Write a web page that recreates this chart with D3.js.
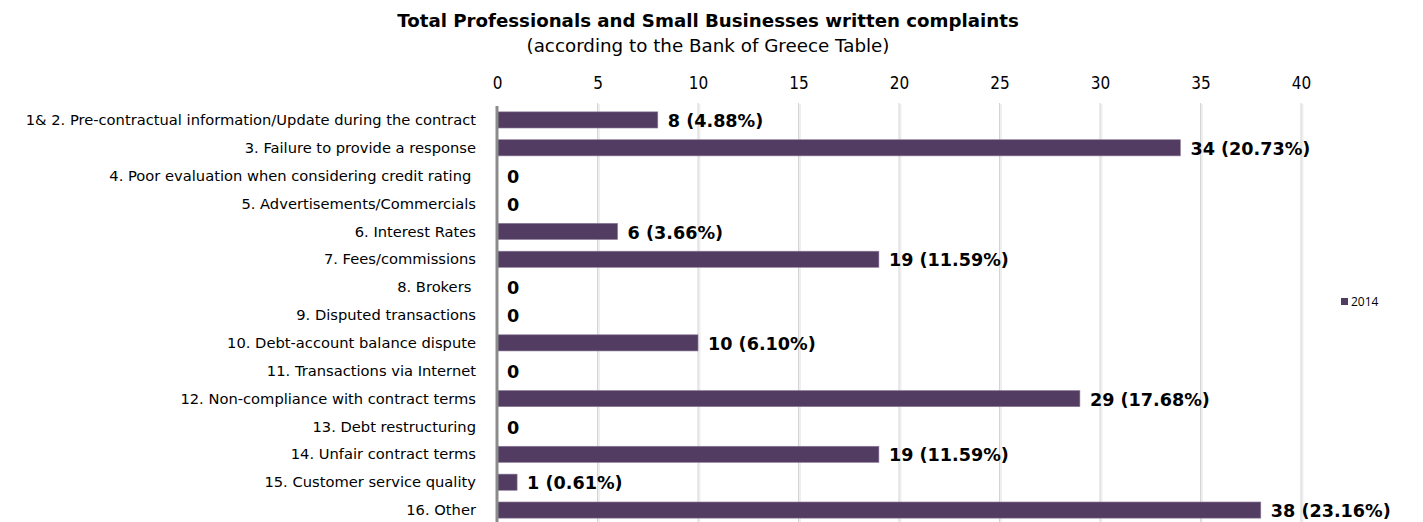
<!DOCTYPE html>
<html>
<head>
<meta charset="utf-8">
<script src="https://cdn.jsdelivr.net/npm/d3@7"></script>
<style>
  html, body { margin: 0; padding: 0; background: #fff; }
  svg { display: block; }
  text { white-space: pre; }
</style>
</head>
<body>
<svg id="chart" width="1423" height="522"></svg>
<script>
const categories = [
  "1& 2. Pre-contractual information/Update during the contract",
  "3. Failure to provide a response",
  "4. Poor evaluation when considering credit rating ",
  "5. Advertisements/Commercials",
  "6. Interest Rates",
  "7. Fees/commissions",
  "8. Brokers ",
  "9. Disputed transactions",
  "10. Debt-account balance dispute",
  "11. Transactions via Internet",
  "12. Non-compliance with contract terms",
  "13. Debt restructuring",
  "14. Unfair contract terms",
  "15. Customer service quality",
  "16. Other"
];
const values2014 = [8, 34, 0, 0, 6, 19, 0, 0, 10, 0, 29, 0, 19, 1, 38];
const percentLabels = ["4.88%", "20.73%", "", "", "3.66%", "11.59%", "", "", "6.10%", "", "17.68%", "", "11.59%", "0.61%", "23.16%"];
const xTicks = [0, 5, 10, 15, 20, 25, 30, 35, 40];
const seriesName = "2014";
const titleText = "Total Professionals and Small Businesses written complaints";
const subtitleText = "(according to the Bank of Greece Table)";

const svg = d3.select("#chart");
const font = "Tahoma, 'DejaVu Sans', sans-serif";
const condFont = "Tahoma, 'DejaVu Sans Condensed', 'DejaVu Sans', sans-serif";
const barColor = "#533c62";

const x = d3.scaleLinear().domain([0, 40]).range([497, 1301]);
const y = d3.scaleBand().domain(categories).range([106, 524]).paddingInner(0.42).paddingOuter(0.21);

// Title
svg.append("text").attr("x", 708).attr("y", 27).attr("text-anchor", "middle")
  .attr("font-family", font).attr("font-weight", "bold").attr("font-size", 18.2)
  .attr("fill", "#000").text(titleText);
svg.append("text").attr("x", 708).attr("y", 52).attr("text-anchor", "middle")
  .attr("font-family", font).attr("font-size", 18.3)
  .attr("fill", "#000").text(subtitleText);

// Gridlines
const grid = svg.append("g");
xTicks.filter(d => d > 0).forEach(t => {
  grid.append("line").attr("x1", x(t) + 1.5).attr("x2", x(t) + 1.5).attr("y1", 104).attr("y2", 522)
    .attr("stroke", "#efefef").attr("stroke-width", 2);
  grid.append("line").attr("x1", x(t)).attr("x2", x(t)).attr("y1", 103).attr("y2", 522)
    .attr("stroke", "#d4d4d4").attr("stroke-width", 1);
});

// Top axis
const axis = d3.axisTop(x).tickValues(xTicks).tickSize(0).tickPadding(0);
const ag = svg.append("g").attr("transform", "translate(0,89)").call(axis);
ag.select(".domain").remove();
ag.selectAll("text").attr("font-family", condFont).attr("font-size", 17).attr("fill", "#000");

// Bars
svg.append("g").selectAll("rect").data(categories).join("rect")
  .attr("x", x(0))
  .attr("y", d => y(d))
  .attr("width", (d, i) => x(values2014[i]) - x(0))
  .attr("height", y.bandwidth())
  .attr("fill", barColor)
  .attr("stroke", "#8f7d9b").attr("stroke-width", 0.6);

// Vertical axis line
svg.append("line").attr("x1", x(0)).attr("x2", x(0)).attr("y1", 106).attr("y2", 522)
  .attr("stroke", "#8c8c8c").attr("stroke-width", 3);

// Category labels
svg.append("g").selectAll("text").data(categories).join("text")
  .attr("x", 476)
  .attr("y", d => y(d) + y.bandwidth() / 2)
  .attr("dy", "0.35em")
  .attr("text-anchor", "end")
  .attr("font-family", font).attr("font-size", 14.7).attr("fill", "#000")
  .text(d => d);

// Value labels
svg.append("g").selectAll("text").data(categories).join("text")
  .attr("x", (d, i) => x(values2014[i]) + 10)
  .attr("y", d => y(d) + y.bandwidth() / 2 + 1)
  .attr("dy", "0.35em")
  .attr("font-family", font).attr("font-weight", "bold").attr("font-size", 17.6).attr("fill", "#000")
  .text((d, i) => values2014[i] === 0 ? "0" : `${values2014[i]} (${percentLabels[i]})`);

// Legend
svg.append("rect").attr("x", 1341).attr("y", 298).attr("width", 7).attr("height", 7).attr("fill", barColor);
svg.append("text").attr("x", 1351).attr("y", 306).attr("font-family", "'Open Sans', 'Liberation Sans', sans-serif")
  .attr("font-size", 12).attr("fill", "#000").text(seriesName);
</script>
</body>
</html>
